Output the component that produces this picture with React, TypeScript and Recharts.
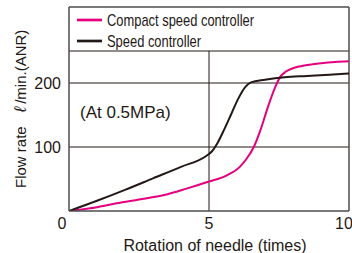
import React from "react"
import { LineChart, Line, XAxis, YAxis, ReferenceLine, Legend, Label } from "recharts"

const compactX = [0, 1, 1.7, 2.5, 3.4, 4.2, 5, 5.6, 6.1, 6.35, 6.6, 6.85, 7.1, 7.35, 7.55, 7.75, 8, 8.5, 9, 9.5, 10]
const compactY = [0, 6, 12, 18, 25, 35, 46, 55, 69, 82, 100, 128, 162, 192, 210, 218, 223, 228, 231, 233, 234]

const speedX = [0, 1, 2, 3, 4, 4.9, 5.1, 5.3, 5.55, 5.8, 6.05, 6.3, 6.5, 7, 7.7, 8.5, 9.3, 10]
const speedY = [0, 16, 33, 51, 69, 86, 93, 106, 128, 152, 176, 194, 201, 205, 209, 211, 213, 215]

const seriesNames = ["Compact speed controller", "Speed controller"]
const seriesColors = ["#e4007f", "#231815"]

const xTicks = [0, 5, 10]
const yTicks = [100, 200]
const yMax = 318.75

const font = "'Liberation Sans', Arial, sans-serif"
const ink = "#231815"
const frame = "#4d4d4d"

const compactData = compactX.map((x, i) => ({ x, y: compactY[i] }))
const speedData = speedX.map((x, i) => ({ x, y: speedY[i] }))

const XTick = ({ x, y, payload }: any) => (
  <text x={payload.value === 0 ? x - 7 : x} y={y + 18} textAnchor="middle" fontSize={16} fontFamily={font} fill={ink}>
    {payload.value}
  </text>
)

const YTick = ({ y, payload }: any) => (
  <text x={61} y={y + 6} textAnchor="end" fontSize={16} fontFamily={font} fill={ink}>
    {payload.value}
  </text>
)

const LegendBox = () => (
  <svg width={280} height={45}>
    {seriesNames.map((name, i) => (
      <g key={name}>
        <line x1={8} x2={33} y1={13 + i * 21} y2={13 + i * 21} stroke={seriesColors[i]} strokeWidth={2.7} />
        <text
          x={38}
          y={19 + i * 21}
          fontSize={17}
          fontFamily={font}
          fill={ink}
          textLength={i === 0 ? 147 : 94}
          lengthAdjust="spacingAndGlyphs"
        >
          {name}
        </text>
      </g>
    ))}
  </svg>
)

export default function App() {
  return (
    <div style={{ position: "absolute", left: 0, top: 0, width: 352, height: 253, background: "#fff" }}>
      <LineChart width={352} height={253} margin={{ top: 7, right: 3, bottom: 0, left: 0 }}>
        <XAxis
          type="number"
          dataKey="x"
          domain={[0, 10]}
          ticks={xTicks}
          tickLine={false}
          tickSize={0}
          tickMargin={0}
          height={42}
          axisLine={{ stroke: frame, strokeWidth: 1.5 }}
          tick={<XTick />}
          allowDataOverflow
        >
          <Label
            content={() => (
              <text x={215} y={251} textAnchor="middle" fontSize={16} fontFamily={font} fill={ink}>
                Rotation of needle (times)
              </text>
            )}
          />
        </XAxis>
        <YAxis
          type="number"
          dataKey="y"
          domain={[0, yMax]}
          ticks={yTicks}
          tickLine={false}
          tickSize={0}
          width={69}
          axisLine={{ stroke: frame, strokeWidth: 1.5 }}
          tick={<YTick />}
          allowDataOverflow
        >
          <Label
            content={() => (
              <text x={26} y={188} transform="rotate(-90 26 188)" fontSize={15} fontFamily={font} fill={ink}>
                Flow rate
                <tspan dx={14} fontStyle="italic" fontSize={17}>ℓ</tspan>
                <tspan dx={3}>/min.(ANR)</tspan>
              </text>
            )}
          />
        </YAxis>
        <ReferenceLine y={100} stroke={ink} strokeWidth={1} />
        <ReferenceLine y={200} stroke={ink} strokeWidth={1} />
        <ReferenceLine y={250} stroke={ink} strokeWidth={1} />
        <ReferenceLine segment={[{ x: 5, y: 0 }, { x: 5, y: 250 }]} stroke={ink} strokeWidth={1} />
        <ReferenceLine y={yMax} stroke={frame} strokeWidth={1.5} />
        <ReferenceLine x={10} stroke={frame} strokeWidth={1.5} />
        <Line
          data={compactData}
          dataKey="y"
          name={seriesNames[0]}
          type="monotone"
          stroke={seriesColors[0]}
          strokeWidth={2}
          dot={false}
          isAnimationActive={false}
        />
        <Line
          data={speedData}
          dataKey="y"
          name={seriesNames[1]}
          type="monotone"
          stroke={seriesColors[1]}
          strokeWidth={2}
          dot={false}
          isAnimationActive={false}
        />
        <Legend
          layout="horizontal"
          verticalAlign="middle"
          align="center"
          content={<LegendBox />}
          wrapperStyle={{ top: 7, left: 69, width: 280, height: 45 }}
        />
      </LineChart>
      <div
        style={{
          position: "absolute",
          left: 80,
          top: 103,
          fontSize: 17,
          lineHeight: "20px",
          fontFamily: font,
          color: ink,
          whiteSpace: "nowrap",
        }}
      >
        (At 0.5MPa)
      </div>
    </div>
  )
}
